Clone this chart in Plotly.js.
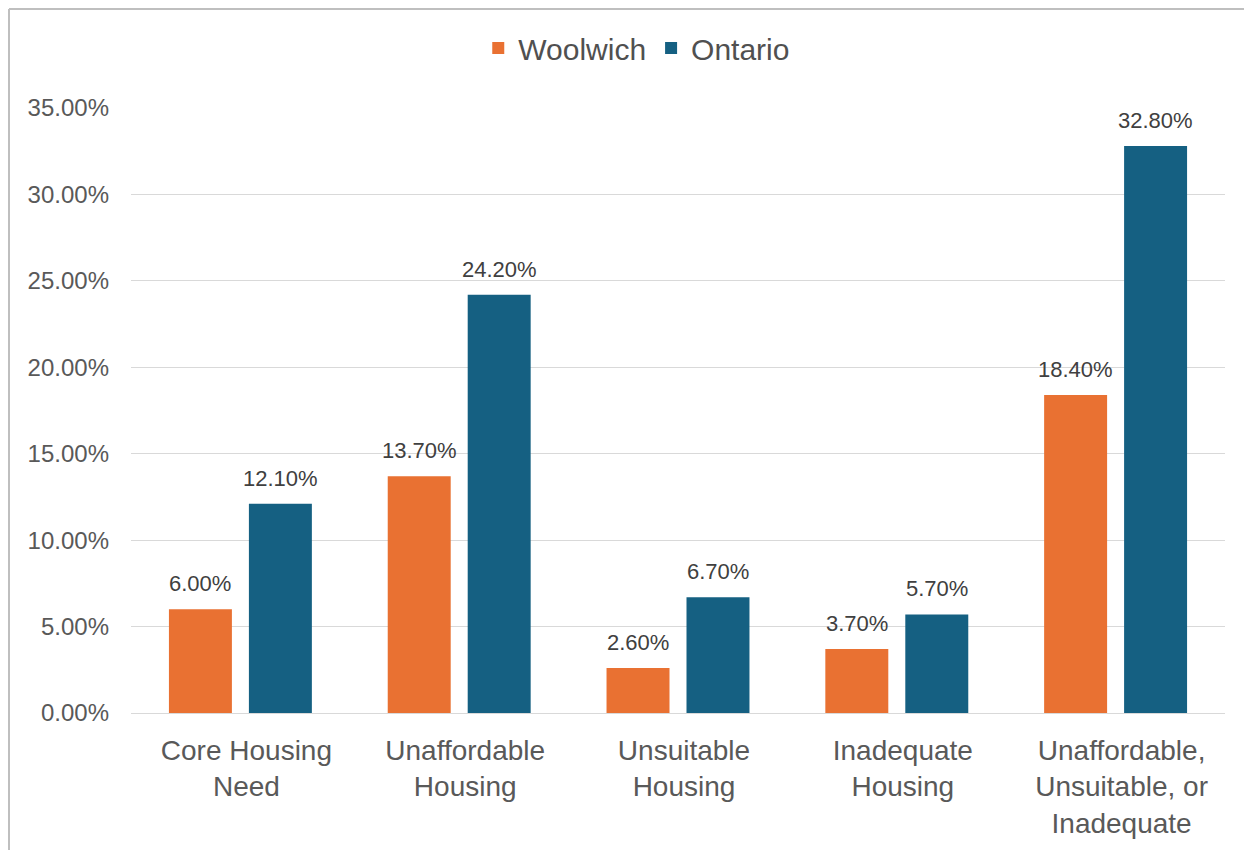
<!DOCTYPE html>
<html>
<head>
<meta charset="utf-8">
<script src="https://cdn.plot.ly/plotly-3.0.1.min.js"></script>
<style>
html,body{margin:0;padding:0;background:#fff;}
#chart{width:1244px;height:850px;}
</style>
</head>
<body>
<div id="chart"></div>
<script>
const categories = ["Core Housing<br>Need", "Unaffordable<br>Housing", "Unsuitable<br>Housing", "Inadequate<br>Housing", "Unaffordable,<br>Unsuitable, or<br>Inadequate"];
const woolwich = [6.0, 13.7, 2.6, 3.7, 18.4];
const ontario = [12.1, 24.2, 6.7, 5.7, 32.8];
const seriesNames = ["Woolwich", "Ontario"];
const seriesColors = ["#E97132", "#156082"];

const FONT = "Liberation Sans, Arial, sans-serif";

const traces = [woolwich, ontario].map((vals, i) => ({
  type: "bar",
  name: seriesNames[i],
  x: categories,
  y: vals,
  marker: {color: seriesColors[i]},
  hoverinfo: "none"
}));

const annotations = [];
[woolwich, ontario].forEach((vals, i) => {
  vals.forEach((v, j) => {
    annotations.push({
      x: categories[j], y: v, xref: "x", yref: "y",
      text: v.toFixed(2) + "%",
      showarrow: false,
      xshift: i === 0 ? -40 : 40,
      yanchor: "bottom",
      yshift: 11,
      font: {family: FONT, size: 22, color: "#404040"}
    });
  });
});

// category label axis, nudged slightly right as in the reference
const labelShift = 6 / 218.8;
const idx = categories.map((c, i) => i);

const layout = {
  width: 1244, height: 850,
  margin: {l: 131, r: 19, t: 108, b: 137},
  paper_bgcolor: "#fff", plot_bgcolor: "#fff",
  barmode: "group",
  bargap: 0.269,
  bargroupgap: 0.2125,
  font: {family: FONT, color: "#595959"},
  showlegend: true,
  legend: {
    orientation: "h",
    x: 0.4623, xanchor: "center",
    y: 1.099, yanchor: "middle",
    font: {family: FONT, size: 30, color: "#505050"},
    itemwidth: 30,
    traceorder: "normal"
  },
  xaxis: {
    type: "category",
    showgrid: false,
    showline: true, linecolor: "#D9D9D9", linewidth: 1,
    ticks: "",
    showticklabels: false
  },
  xaxis2: {
    overlaying: "x",
    anchor: "y",
    side: "bottom",
    type: "linear",
    range: [-0.5 - labelShift, categories.length - 0.5 - labelShift],
    tickmode: "array",
    tickvals: idx,
    ticktext: categories,
    showgrid: false, zeroline: false, showline: false,
    ticks: "",
    tickfont: {family: FONT, size: 28, color: "#595959"},
    ticklabelstandoff: 18
  },
  yaxis: {
    range: [0, 35],
    dtick: 5, tick0: 0,
    tickformat: ".2f", ticksuffix: "%",
    showgrid: true, gridcolor: "#D9D9D9", gridwidth: 1,
    zeroline: true, zerolinecolor: "#D9D9D9", zerolinewidth: 1,
    showline: false,
    ticks: "",
    tickfont: {family: FONT, size: 24, color: "#595959"},
    ticklabelstandoff: 21
  },
  annotations: annotations,
  shapes: [
    {type: "line", xref: "paper", yref: "paper",
     x0: (9 - 131) / 1094, x1: 1.2, y0: (713 - 9) / 605, y1: (713 - 9) / 605,
     line: {color: "#BFBFBF", width: 2}},
    {type: "line", xref: "paper", yref: "paper",
     x0: (9 - 131) / 1094, x1: (9 - 131) / 1094, y0: (713 - 9) / 605, y1: -0.5,
     line: {color: "#BFBFBF", width: 2}}
  ]
};

// invisible helper trace so the label axis is drawn
traces.push({type: "scatter", x: idx, y: idx.map(() => null), xaxis: "x2", yaxis: "y",
  showlegend: false, hoverinfo: "none", mode: "markers"});

Plotly.newPlot("chart", traces, layout, {displayModeBar: false, staticPlot: true});
</script>
</body>
</html>
